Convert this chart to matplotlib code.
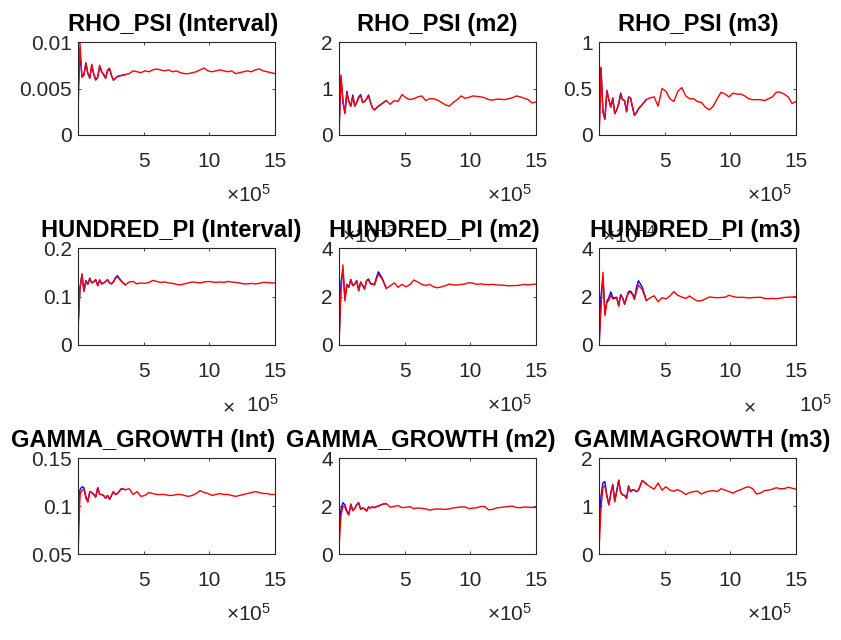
import numpy as np
import matplotlib
matplotlib.use('Agg')
import matplotlib.pyplot as plt

plt.rcParams['font.family'] = ['Liberation Sans', 'DejaVu Sans']
plt.rcParams['mathtext.fontset'] = 'custom'
plt.rcParams['mathtext.rm'] = 'Liberation Sans'

# draws, in units of 1e5
x = [0.02, 0.15, 0.3, 0.45, 0.6, 0.75, 0.9, 1.05, 1.2, 1.35, 1.5, 1.65, 1.8, 1.95, 2.1,
     2.25, 2.4, 2.55, 2.7, 2.85, 3.0, 3.3, 3.6, 3.9, 4.2, 4.5, 4.8, 5.1, 5.4, 5.7, 6.0,
     6.3, 6.6, 6.9, 7.2, 7.5, 7.8, 8.1, 8.4, 8.7, 9.0, 9.3, 9.6, 9.9, 10.2, 10.5, 10.8,
     11.1, 11.4, 11.7, 12.0, 12.3, 12.6, 12.9, 13.2, 13.5, 13.8, 14.1, 14.4, 14.7, 15.0]

titles = ['RHO_PSI (Interval)', 'RHO_PSI (m2)', 'RHO_PSI (m3)',
          'HUNDRED_PI (Interval)', 'HUNDRED_PI (m2)', 'HUNDRED_PI (m3)',
          'GAMMA_GROWTH (Int)', 'GAMMA_GROWTH (m2)', 'GAMMAGROWTH (m3)']

# red = within-chain measure, blue = pooled measure (blue only differs early on)
rho_int_r = [0.0034, 0.0099, 0.0062, 0.0064, 0.0078, 0.0066, 0.0062, 0.0076, 0.0066, 0.0060,
             0.0062, 0.0075, 0.0068, 0.0065, 0.0061, 0.0070, 0.0072, 0.0064, 0.0059, 0.0061,
             0.0063, 0.0064, 0.0065, 0.0066, 0.0069, 0.0068, 0.0067, 0.0069, 0.0068, 0.0070,
             0.0071, 0.0070, 0.0069, 0.0070, 0.0068, 0.0069, 0.0067, 0.0066, 0.0066, 0.0067,
             0.0068, 0.0070, 0.0072, 0.0069, 0.0068, 0.0069, 0.0070, 0.0069, 0.0068, 0.0069,
             0.0066, 0.0067, 0.0068, 0.0069, 0.0068, 0.0070, 0.0071, 0.0069, 0.0068, 0.0067, 0.0066]
rho_int_b = [0.0050, 0.0088, 0.0063, 0.0065, 0.0077, 0.0066, 0.0061, 0.0075, 0.0065, 0.0059,
             0.0062, 0.0074, 0.0068, 0.0065, 0.0061, 0.0069, 0.0071, 0.0064, 0.0059, 0.0061,
             0.0063, 0.0064, 0.0065]

rho_m2_r = [0.14, 1.29, 0.75, 0.46, 0.90, 0.72, 0.62, 0.82, 0.62, 0.70, 0.80, 0.85, 0.70, 0.72,
            0.78, 0.84, 0.70, 0.58, 0.54, 0.58, 0.62, 0.68, 0.74, 0.66, 0.74, 0.72, 0.87, 0.80,
            0.76, 0.78, 0.82, 0.84, 0.74, 0.78, 0.78, 0.75, 0.70, 0.65, 0.62, 0.70, 0.76, 0.84,
            0.79, 0.81, 0.84, 0.83, 0.82, 0.80, 0.76, 0.75, 0.77, 0.77, 0.76, 0.78, 0.80, 0.84,
            0.82, 0.79, 0.76, 0.69, 0.71]
rho_m2_b = [0.30, 1.25, 0.70, 0.48, 0.94, 0.72, 0.62, 0.86, 0.62, 0.70, 0.82, 0.87, 0.70, 0.72,
            0.78, 0.86, 0.70, 0.58, 0.54, 0.58, 0.62, 0.68, 0.74]

rho_m3_r = [0.02, 0.73, 0.25, 0.17, 0.47, 0.38, 0.30, 0.39, 0.23, 0.27, 0.33, 0.43, 0.38, 0.37,
            0.25, 0.40, 0.40, 0.30, 0.21, 0.24, 0.28, 0.33, 0.38, 0.40, 0.41, 0.31, 0.50, 0.47,
            0.39, 0.36, 0.47, 0.51, 0.42, 0.39, 0.39, 0.36, 0.35, 0.30, 0.27, 0.31, 0.39, 0.46,
            0.44, 0.41, 0.45, 0.44, 0.44, 0.42, 0.39, 0.38, 0.38, 0.38, 0.37, 0.39, 0.41, 0.46,
            0.46, 0.44, 0.41, 0.34, 0.36]
rho_m3_b = [0.08, 0.72, 0.25, 0.17, 0.48, 0.38, 0.30, 0.40, 0.23, 0.27, 0.34, 0.45, 0.38, 0.37,
            0.25, 0.41, 0.40, 0.30, 0.21, 0.24, 0.28, 0.33, 0.38]

pi_int_r = [0.041, 0.115, 0.147, 0.110, 0.131, 0.125, 0.136, 0.128, 0.130, 0.134, 0.122, 0.134,
            0.126, 0.128, 0.131, 0.134, 0.128, 0.126, 0.130, 0.137, 0.141, 0.131, 0.124, 0.130,
            0.131, 0.126, 0.128, 0.127, 0.129, 0.133, 0.131, 0.129, 0.130, 0.128, 0.127, 0.125,
            0.124, 0.126, 0.128, 0.130, 0.129, 0.128, 0.130, 0.131, 0.130, 0.129, 0.130, 0.129,
            0.131, 0.130, 0.129, 0.128, 0.126, 0.126, 0.127, 0.126, 0.127, 0.129, 0.129, 0.128, 0.128]
pi_int_b = [0.050, 0.118, 0.145, 0.112, 0.133, 0.126, 0.138, 0.128, 0.131, 0.135, 0.123, 0.134,
            0.126, 0.128, 0.131, 0.135, 0.128, 0.126, 0.131, 0.139, 0.143, 0.132, 0.124]

# in units of 1e-3
pi_m2_r = [0.35, 2.20, 3.30, 1.81, 2.47, 2.37, 2.68, 2.44, 2.50, 2.65, 2.23, 2.58, 2.45, 2.30,
           2.65, 2.68, 2.52, 2.50, 2.47, 2.70, 2.93, 2.70, 2.33, 2.44, 2.56, 2.38, 2.50, 2.40,
           2.49, 2.68, 2.60, 2.50, 2.45, 2.50, 2.40, 2.36, 2.40, 2.45, 2.51, 2.48, 2.47, 2.50,
           2.52, 2.57, 2.55, 2.50, 2.52, 2.50, 2.49, 2.50, 2.48, 2.47, 2.46, 2.44, 2.45, 2.45,
           2.47, 2.50, 2.48, 2.50, 2.51]
pi_m2_b = [0.40, 2.60, 3.10, 1.90, 2.50, 2.40, 2.70, 2.46, 2.52, 2.66, 2.25, 2.60, 2.46, 2.32,
           2.66, 2.72, 2.54, 2.52, 2.50, 2.78, 3.02, 2.74, 2.33]

# in units of 1e-4
pi_m3_r = [0.07, 1.50, 3.00, 1.21, 1.75, 1.85, 2.05, 1.90, 1.92, 1.95, 1.60, 2.05, 1.93, 1.67,
           1.95, 2.15, 2.17, 2.08, 1.88, 2.20, 2.47, 2.28, 1.83, 1.95, 2.03, 1.78, 1.95, 1.90,
           2.02, 2.20, 2.05, 1.98, 1.92, 2.02, 1.90, 1.81, 1.83, 1.90, 1.98, 1.96, 1.95, 1.96,
           1.97, 2.05, 2.00, 1.96, 1.97, 1.96, 1.94, 1.96, 1.96, 1.97, 1.92, 1.91, 1.92, 1.91,
           1.93, 1.96, 1.97, 1.98, 1.99]
pi_m3_b = [0.20, 2.00, 2.80, 1.30, 1.80, 1.95, 2.19, 1.95, 1.95, 1.97, 1.62, 2.08, 1.95, 1.70,
           1.97, 2.20, 2.22, 2.12, 1.92, 2.35, 2.65, 2.38, 1.85]

gam_int_r = [0.056, 0.112, 0.116, 0.118, 0.108, 0.104, 0.115, 0.114, 0.112, 0.109, 0.119, 0.112,
             0.112, 0.111, 0.108, 0.111, 0.107, 0.111, 0.115, 0.112, 0.113, 0.118, 0.117, 0.118,
             0.112, 0.115, 0.110, 0.111, 0.114, 0.113, 0.112, 0.112, 0.112, 0.111, 0.111, 0.112,
             0.112, 0.111, 0.110, 0.111, 0.113, 0.116, 0.114, 0.113, 0.111, 0.112, 0.113, 0.112,
             0.112, 0.111, 0.110, 0.111, 0.112, 0.113, 0.114, 0.115, 0.114, 0.113, 0.113, 0.112, 0.112]
gam_int_b = [0.080, 0.117, 0.120, 0.119, 0.110, 0.105, 0.115, 0.114, 0.112, 0.110, 0.119, 0.112,
             0.112, 0.111, 0.108, 0.111, 0.107, 0.111, 0.115, 0.112, 0.113, 0.118, 0.117]

gam_m2_r = [0.45, 1.60, 2.00, 1.95, 1.75, 1.62, 2.07, 1.80, 1.90, 2.05, 2.12, 1.86, 1.92, 1.88,
            1.79, 1.95, 1.92, 1.97, 1.93, 1.97, 2.00, 2.07, 2.10, 1.95, 1.98, 2.02, 1.93, 1.95,
            1.97, 1.89, 1.92, 1.90, 1.88, 1.83, 1.86, 1.88, 1.87, 1.86, 1.88, 1.92, 1.94, 1.96,
            1.96, 1.89, 1.91, 1.93, 1.98, 1.98, 1.84, 1.86, 1.92, 1.94, 1.96, 1.98, 1.99, 1.94,
            1.93, 1.96, 1.95, 1.94, 1.94]
gam_m2_b = [1.15, 1.85, 2.14, 2.05, 1.80, 1.65, 2.08, 1.82, 1.90, 2.06, 2.14, 1.86, 1.92, 1.88,
            1.79, 1.96, 1.92, 1.97, 1.93, 1.97, 2.00, 2.07, 2.10]

gam_m3_r = [0.19, 0.95, 1.38, 1.42, 1.20, 1.02, 1.25, 1.43, 1.09, 1.30, 1.53, 1.28, 1.23, 1.22,
            1.16, 1.41, 1.30, 1.34, 1.33, 1.30, 1.33, 1.53, 1.46, 1.40, 1.35, 1.48, 1.33, 1.40,
            1.33, 1.31, 1.34, 1.30, 1.24, 1.28, 1.30, 1.31, 1.25, 1.29, 1.31, 1.32, 1.30, 1.36,
            1.33, 1.30, 1.27, 1.31, 1.34, 1.38, 1.40, 1.36, 1.25, 1.27, 1.32, 1.33, 1.35, 1.38,
            1.36, 1.36, 1.39, 1.37, 1.35]
gam_m3_b = [0.50, 1.20, 1.48, 1.51, 1.22, 1.03, 1.28, 1.45, 1.10, 1.32, 1.54, 1.29, 1.23, 1.22,
            1.16, 1.42, 1.30, 1.34, 1.33, 1.30, 1.33, 1.53, 1.46]

reds = [rho_int_r, rho_m2_r, rho_m3_r, pi_int_r, pi_m2_r, pi_m3_r, gam_int_r, gam_m2_r, gam_m3_r]
blues = [rho_int_b, rho_m2_b, rho_m3_b, pi_int_b, pi_m2_b, pi_m3_b, gam_int_b, gam_m2_b, gam_m3_b]

ylims = [(0, 0.01), (0, 2), (0, 1), (0, 0.2), (0, 4), (0, 4), (0.05, 0.15), (0, 4), (0, 2)]
yticks = [[0, 0.005, 0.01], [0, 1, 2], [0, 0.5, 1], [0, 0.1, 0.2], [0, 2, 4], [0, 2, 4],
          [0.05, 0.1, 0.15], [0, 2, 4], [0, 1, 2]]
yticklabels = [['0', '0.005', '0.01'], ['0', '1', '2'], ['0', '0.5', '1'], ['0', '0.1', '0.2'],
               ['0', '2', '4'], ['0', '2', '4'], ['0.05', '0.1', '0.15'], ['0', '2', '4'],
               ['0', '1', '2']]
yexp = {4: '-3', 5: '-4'}

W, H = 841, 640
fig = plt.figure(figsize=(W / 100, H / 100), dpi=100)

lefts = [78, 339, 599]
tops = [42, 248, 458]
bottoms = [135, 345, 554]
# title centres in pixels (MATLAB put the bottom-row ones off-centre)
title_cx = [173, 437, 698, 171, 434, 695, 143, 421, 702]
gray = '#262626'
fs = 15

for i in range(9):
    r, c = divmod(i, 3)
    l = lefts[c]
    aw = 197
    ax = fig.add_axes([l / W, 1 - bottoms[r] / H, aw / W, (bottoms[r] - tops[r]) / H])
    ax.plot(x[:len(blues[i])], blues[i], color='b', lw=1.0)
    ax.plot(x, reds[i], color='r', lw=1.0)
    ax.set_xlim(0, 15)
    ax.set_ylim(*ylims[i])
    ax.set_xticks([5, 10, 15])
    ax.set_xticklabels(['5', '10', '15'])
    ax.set_yticks(yticks[i])
    ax.set_yticklabels(yticklabels[i])
    ax.tick_params(direction='in', top=True, right=True, length=2.5, width=0.6,
                   colors=gray, labelsize=fs)
    ax.tick_params(axis='x', pad=12)
    ax.tick_params(axis='y', pad=4.5)
    for s in ax.spines.values():
        s.set_color(gray)
        s.set_linewidth(0.8)
    ax.annotate(titles[i], xy=((title_cx[i] - l) / aw, 1), xycoords='axes fraction',
                xytext=(0, 11), textcoords='offset pixels', ha='center', va='baseline',
                fontsize=17, fontweight='bold', color='black', zorder=5)

    # x multiplier
    if i == 3 or i == 5:
        ax.annotate(r'$\times$', xy=(1, 0), xycoords='axes fraction', xytext=(-40, -67),
                    textcoords='offset pixels', ha='right', va='baseline',
                    fontsize=fs, color=gray)
        off = 4 if i == 3 else 36
        ax.annotate(r'$\mathregular{10^{5}}$', xy=(1, 0), xycoords='axes fraction',
                    xytext=(off, -67), textcoords='offset pixels', ha='right',
                    va='baseline', fontsize=fs, color=gray)
    else:
        ax.annotate(r'$\times\mathregular{10^{5}}$', xy=(1, 0), xycoords='axes fraction',
                    xytext=(-4, -67), textcoords='offset pixels', ha='right',
                    va='baseline', fontsize=fs, color=gray)
    if i in yexp:
        ax.annotate(r'$\times\mathregular{10^{' + yexp[i] + '}}$', xy=(0, 1),
                    xycoords='axes fraction', xytext=(3, 5), textcoords='offset pixels',
                    ha='left', va='baseline', fontsize=fs, color=gray, zorder=0)

fig.savefig('out.png', dpi=100)
